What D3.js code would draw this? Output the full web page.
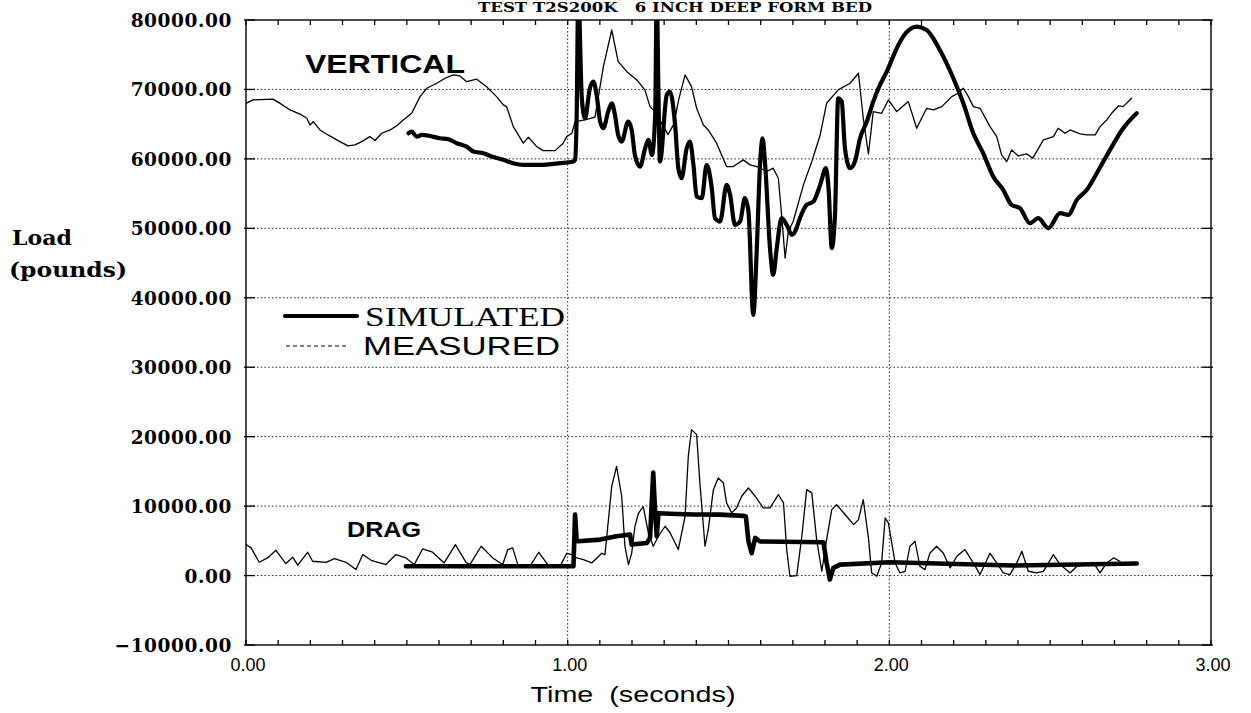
<!DOCTYPE html>
<html>
<head>
<meta charset="utf-8">
<script src="https://cdn.jsdelivr.net/npm/d3@7"></script>
<style>
  html, body { margin: 0; padding: 0; background: #fff; }
  svg { display: block; }
</style>
</head>
<body>
<svg id="chart" width="1251" height="713"></svg>
<script>
// ---- Data: [time (s), load (lb)] ----
const measuredVertical = [
  [0.000,68000],[0.022,68500],[0.084,68600],[0.106,68000],[0.137,67050],[0.173,66330],
  [0.189,65850],[0.199,64890],[0.209,65370],[0.230,64170],[0.255,63450],[0.292,62490],
  [0.317,61870],[0.339,62010],[0.360,62490],[0.385,63210],[0.401,62640],[0.422,63690],
  [0.448,64170],[0.468,64750],[0.489,65610],[0.515,66570],[0.541,68970],[0.562,70170],
  [0.593,70890],[0.619,71610],[0.644,72090],[0.665,71940],[0.686,71120],[0.717,71470],
  [0.748,70400],[0.779,68970],[0.800,67770],[0.810,67530],[0.831,64650],[0.862,62260],
  [0.878,63120],[0.904,61770],[0.924,61190],[0.961,61190],[0.986,62260],[0.997,63210],
  [1.013,63690],[1.023,65370],[1.054,65610],[1.085,66000],[1.111,73280],[1.137,78560],
  [1.157,74000],[1.184,72560],[1.215,71370],[1.240,69930],[1.256,67530],[1.271,66800],
  [1.292,65140],[1.312,63500],[1.330,65000],[1.345,68500],[1.365,72090],[1.385,70400],
  [1.401,67290],[1.422,64890],[1.437,64170],[1.463,62260],[1.494,58900],[1.515,58900],
  [1.546,59860],[1.567,59140],[1.588,58900],[1.619,58180],[1.639,58660],[1.655,57220],
  [1.665,51940],[1.676,45710],[1.686,49540],[1.701,50980],[1.733,56260],[1.759,59620],
  [1.785,63450],[1.805,68010],[1.841,69930],[1.878,70890],[1.904,72330],[1.919,65850],
  [1.935,60700],[1.950,66810],[1.976,66570],[1.997,68490],[2.023,66810],[2.059,68250],
  [2.085,64410],[2.116,67290],[2.137,67050],[2.163,67530],[2.194,68970],[2.214,69450],
  [2.230,70170],[2.246,68970],[2.261,67530],[2.282,67290],[2.313,64650],[2.334,63210],
  [2.349,60570],[2.365,59620],[2.380,61290],[2.401,60430],[2.427,60720],[2.446,60100],
  [2.479,62740],[2.510,63210],[2.525,64410],[2.546,63690],[2.562,64170],[2.593,63600],
  [2.614,63450],[2.640,63450],[2.655,64650],[2.676,65610],[2.691,66570],[2.712,67620],
  [2.727,67530],[2.753,68730]
];

const simulatedVertical = [
  [0.505,63690],[0.515,63930],[0.531,63210],[0.546,63450],[0.572,63300],[0.603,62970],
  [0.629,62830],[0.655,62260],[0.686,61770],[0.707,61050],[0.738,60810],[0.759,60430],
  [0.800,59860],[0.831,59380],[0.862,59140],[0.914,59140],[0.976,59380],[1.018,59620],
  [1.023,59860],[1.028,66330],[1.033,84000],[1.044,68730],[1.054,65850],[1.069,70170],
  [1.080,71120],[1.090,69210],[1.101,65370],[1.111,64410],[1.126,66810],[1.137,68010],
  [1.147,66330],[1.157,63450],[1.168,62490],[1.188,65370],[1.199,64170],[1.209,60570],
  [1.225,58900],[1.241,61530],[1.251,62740],[1.262,60570],[1.272,66330],[1.277,84000],
  [1.282,70000],[1.287,59620],[1.308,69210],[1.318,69690],[1.334,64890],[1.344,58660],
  [1.354,57220],[1.370,61530],[1.380,62490],[1.391,59140],[1.401,54580],[1.417,54340],
  [1.432,59140],[1.448,55780],[1.458,51460],[1.474,50980],[1.494,56260],[1.505,54820],
  [1.520,50500],[1.536,50980],[1.551,54340],[1.562,52420],[1.577,37550],[1.588,47150],
  [1.598,59140],[1.606,62970],[1.614,59140],[1.629,47150],[1.639,43310],[1.650,47150],
  [1.665,51460],[1.681,50500],[1.697,49060],[1.707,49540],[1.722,51460],[1.743,53380],
  [1.764,53860],[1.785,56260],[1.803,58660],[1.811,55780],[1.821,47150],[1.831,51940],
  [1.841,68730],[1.852,68250],[1.862,61530],[1.878,58660],[1.893,59620],[1.909,62970],
  [1.930,65370],[1.950,68250],[1.971,70650],[1.992,72560],[2.023,75920],[2.043,77600],
  [2.085,79040],[2.116,78560],[2.157,75680],[2.199,71610],[2.230,68010],[2.261,63690],
  [2.292,60810],[2.323,57450],[2.354,55540],[2.380,53380],[2.406,52900],[2.437,50740],
  [2.463,51460],[2.494,50020],[2.531,52180],[2.556,51940],[2.583,54100],[2.614,55540],
  [2.645,57940],[2.686,61290],[2.727,64410],[2.769,66570]
];

const measuredDrag = [
  [0.000,4460],[0.016,3980],[0.041,1910],[0.067,2540],[0.093,3640],[0.124,1730],
  [0.145,2640],[0.161,1490],[0.192,3360],[0.207,2060],[0.249,1910],[0.275,2450],
  [0.311,1910],[0.342,860],[0.363,3020],[0.389,2200],[0.435,1580],[0.466,3020],
  [0.497,2540],[0.523,1580],[0.549,3830],[0.580,3360],[0.616,1820],[0.651,4460],
  [0.684,1910],[0.696,1580],[0.731,4220],[0.767,2540],[0.798,1580],[0.814,3740],
  [0.829,3980],[0.845,1580],[0.886,1580],[0.910,3360],[0.938,1580],[0.979,1580],
  [0.997,3210],[1.013,3020],[1.028,2540],[1.049,2300],[1.075,1820],[1.106,3210],
  [1.116,3020],[1.137,12850],[1.152,15730],[1.168,11420],[1.178,4220],[1.189,1580],
  [1.199,3210],[1.209,7050],[1.220,8970],[1.235,9930],[1.251,6100],[1.266,4220],
  [1.282,5660],[1.303,7100],[1.318,6200],[1.344,3740],[1.365,8540],[1.375,17170],
  [1.385,21010],[1.401,20290],[1.411,13340],[1.427,4220],[1.437,6620],[1.453,12370],
  [1.468,14050],[1.484,13340],[1.494,10460],[1.510,9020],[1.525,9740],[1.541,11420],
  [1.562,12610],[1.583,11420],[1.608,9740],[1.629,9740],[1.655,11660],[1.671,10460],
  [1.681,3740],[1.691,-100],[1.712,0],[1.728,5660],[1.743,12370],[1.759,11900],
  [1.774,5180],[1.790,620],[1.805,5180],[1.821,9500],[1.836,10220],[1.867,8540],
  [1.889,7340],[1.904,8060],[1.919,10940],[1.935,5420],[1.945,380],[1.961,-100],
  [1.976,1820],[1.987,8300],[1.997,7580],[2.018,1820],[2.033,380],[2.049,600],
  [2.064,4220],[2.080,4940],[2.095,1340],[2.111,860],[2.126,3210],[2.147,4220],
  [2.168,3210],[2.189,1100],[2.210,2780],[2.235,3740],[2.261,1820],[2.282,140],
  [2.313,3210],[2.334,1820],[2.354,380],[2.375,140],[2.396,1820],[2.412,3500],
  [2.432,620],[2.458,380],[2.479,600],[2.510,3020],[2.531,1580],[2.562,380],
  [2.583,1340],[2.614,1580],[2.635,1820],[2.655,380],[2.676,1820],[2.697,2540],
  [2.717,2060]
];

const simulatedDrag = [
  [0.497,1340],[1.010,1340],[1.018,1340],[1.023,8780],[1.028,5000],[1.033,4940],
  [1.101,5180],[1.152,5660],[1.194,5900],[1.199,4460],[1.246,4700],[1.256,5400],
  [1.266,14830],[1.272,9000],[1.277,5660],[1.282,8970],[1.318,8900],[1.391,8800],
  [1.474,8780],[1.546,8600],[1.554,8500],[1.562,4940],[1.572,3210],[1.583,5420],
  [1.598,4900],[1.795,4800],[1.805,1820],[1.815,-580],[1.826,1100],[1.847,1580],
  [2.002,1910],[2.385,1440],[2.769,1730]
];

const yTicks = [-10000, 0, 10000, 20000, 30000, 40000, 50000, 60000, 70000, 80000];
const xTicks = [0, 1, 2, 3];
const titleText = "TEST T2S200K\u00A0\u00A0\u00A06 INCH DEEP FORM BED";

// ---- Layout ----
const svg = d3.select("#chart");
const x = d3.scaleLinear().domain([0, 3]).range([246, 1211]);
const y = d3.scaleLinear().domain([-10000, 80000]).range([645, 20]);
const [x0, x1] = x.range();
const [yb, yt] = y.range();

svg.append("defs").append("clipPath").attr("id", "plot-clip")
  .append("rect").attr("x", x0).attr("y", yt).attr("width", x1 - x0).attr("height", yb - yt);

// Title
svg.append("text")
  .attr("x", 675).attr("y", 12)
  .attr("text-anchor", "middle")
  .attr("font-family", "DejaVu Serif").attr("font-weight", "bold")
  .attr("font-size", 13)
  .attr("textLength", 394).attr("lengthAdjust", "spacingAndGlyphs")
  .text(titleText);

// Dotted grid
const grid = svg.append("g").attr("stroke", "#222").attr("stroke-width", 1)
  .attr("stroke-dasharray", "1.5,2.2").attr("fill", "none");
grid.selectAll("line.h").data(yTicks.filter(v => v > -10000 && v < 80000)).join("line")
  .attr("x1", x0).attr("x2", x1).attr("y1", d => y(d)).attr("y2", d => y(d));
grid.selectAll("line.v").data([1, 2]).join("line")
  .attr("x1", d => x(d)).attr("x2", d => x(d)).attr("y1", yt).attr("y2", yb);

// Frame
svg.append("rect").attr("x", x0).attr("y", yt).attr("width", x1 - x0).attr("height", yb - yt)
  .attr("fill", "none").attr("stroke", "#000").attr("stroke-width", 1.4);

// Ticks: major on left/right, minor every 0.1 s on top/bottom
const tickG = svg.append("g").attr("stroke", "#000").attr("stroke-width", 1.3);
tickG.selectAll("line.l").data(yTicks).join("line")
  .attr("x1", x0 - 2).attr("x2", x0 + 9).attr("y1", d => y(d)).attr("y2", d => y(d));
tickG.selectAll("line.r").data(yTicks).join("line")
  .attr("x1", x1 - 9).attr("x2", x1 + 2).attr("y1", d => y(d)).attr("y2", d => y(d));
const minorX = d3.range(0, 31).map(i => i / 10);
tickG.selectAll("line.t").data(minorX).join("line")
  .attr("x1", d => x(d)).attr("x2", d => x(d)).attr("y1", yt).attr("y2", yt + 5);
tickG.selectAll("line.b").data(minorX).join("line")
  .attr("x1", d => x(d)).attr("x2", d => x(d)).attr("y1", yb).attr("y2", yb - 5);

// Y tick labels
svg.append("g").selectAll("text").data(yTicks).join("text")
  .attr("x", 232).attr("y", d => y(d) + 7)
  .attr("text-anchor", "end")
  .attr("font-family", "DejaVu Serif").attr("font-weight", "bold")
  .attr("font-size", 18.5).attr("letter-spacing", 0.6)
  .text(d => (d < 0 ? "\u2212" : "") + d3.format(".2f")(Math.abs(d)));

// X tick labels
svg.append("g").selectAll("text").data(xTicks).join("text")
  .attr("x", d => x(d) + 2).attr("y", 671)
  .attr("text-anchor", "middle")
  .attr("font-family", "Liberation Sans").attr("font-size", 18)
  .text(d => d3.format(".2f")(d));

// Axis titles
svg.append("text").attr("x", 633).attr("y", 702).attr("text-anchor", "middle")
  .attr("font-family", "Liberation Sans").attr("font-size", 22)
  .attr("textLength", 205).attr("lengthAdjust", "spacingAndGlyphs")
  .text("Time\u00A0\u00A0(seconds)");
const yTitle = svg.append("g").attr("font-family", "DejaVu Serif").attr("font-weight", "bold").attr("font-size", 20);
yTitle.append("text").attr("x", 12).attr("y", 245).attr("textLength", 60).attr("lengthAdjust", "spacingAndGlyphs").text("Load");
yTitle.append("text").attr("x", 9).attr("y", 277).attr("textLength", 118).attr("lengthAdjust", "spacingAndGlyphs").text("(pounds)");

// Series
const line = d3.line().x(d => x(d[0])).y(d => y(d[1]));
const smooth = d3.line().x(d => x(d[0])).y(d => y(d[1])).curve(d3.curveMonotoneX);
const plot = svg.append("g").attr("clip-path", "url(#plot-clip)").attr("fill", "none")
  .attr("stroke", "#000").attr("stroke-linejoin", "round").attr("stroke-linecap", "round");
plot.append("path").datum(measuredVertical).attr("d", line).attr("stroke-width", 1.3);
plot.append("path").datum(measuredDrag).attr("d", line).attr("stroke-width", 1.3);
plot.append("path").datum(simulatedVertical).attr("d", smooth).attr("stroke-width", 4.2);
plot.append("path").datum(simulatedDrag).attr("d", line).attr("stroke-width", 4.6);

// Curve labels
svg.append("text").attr("x", 305).attr("y", 73)
  .attr("font-family", "Liberation Sans").attr("font-weight", "bold").attr("font-size", 25)
  .attr("textLength", 160).attr("lengthAdjust", "spacingAndGlyphs").text("VERTICAL");
svg.append("text").attr("x", 347).attr("y", 537)
  .attr("font-family", "Liberation Sans").attr("font-weight", "bold").attr("font-size", 22)
  .attr("textLength", 74).attr("lengthAdjust", "spacingAndGlyphs").text("DRAG");

// Legend
const legend = svg.append("g");
legend.append("line").attr("x1", 285).attr("x2", 357).attr("y1", 316).attr("y2", 316)
  .attr("stroke", "#000").attr("stroke-width", 4.2).attr("stroke-linecap", "round");
legend.append("text").attr("x", 365).attr("y", 326)
  .attr("font-family", "Liberation Serif").attr("font-size", 27)
  .attr("textLength", 200).attr("lengthAdjust", "spacingAndGlyphs").text("SIMULATED");
legend.append("line").attr("x1", 286).attr("x2", 346).attr("y1", 346).attr("y2", 346)
  .attr("stroke", "#000").attr("stroke-width", 1).attr("stroke-dasharray", "4,3");
legend.append("text").attr("x", 363).attr("y", 355)
  .attr("font-family", "Liberation Sans").attr("font-size", 25)
  .attr("textLength", 197).attr("lengthAdjust", "spacingAndGlyphs").text("MEASURED");
</script>
</body>
</html>
